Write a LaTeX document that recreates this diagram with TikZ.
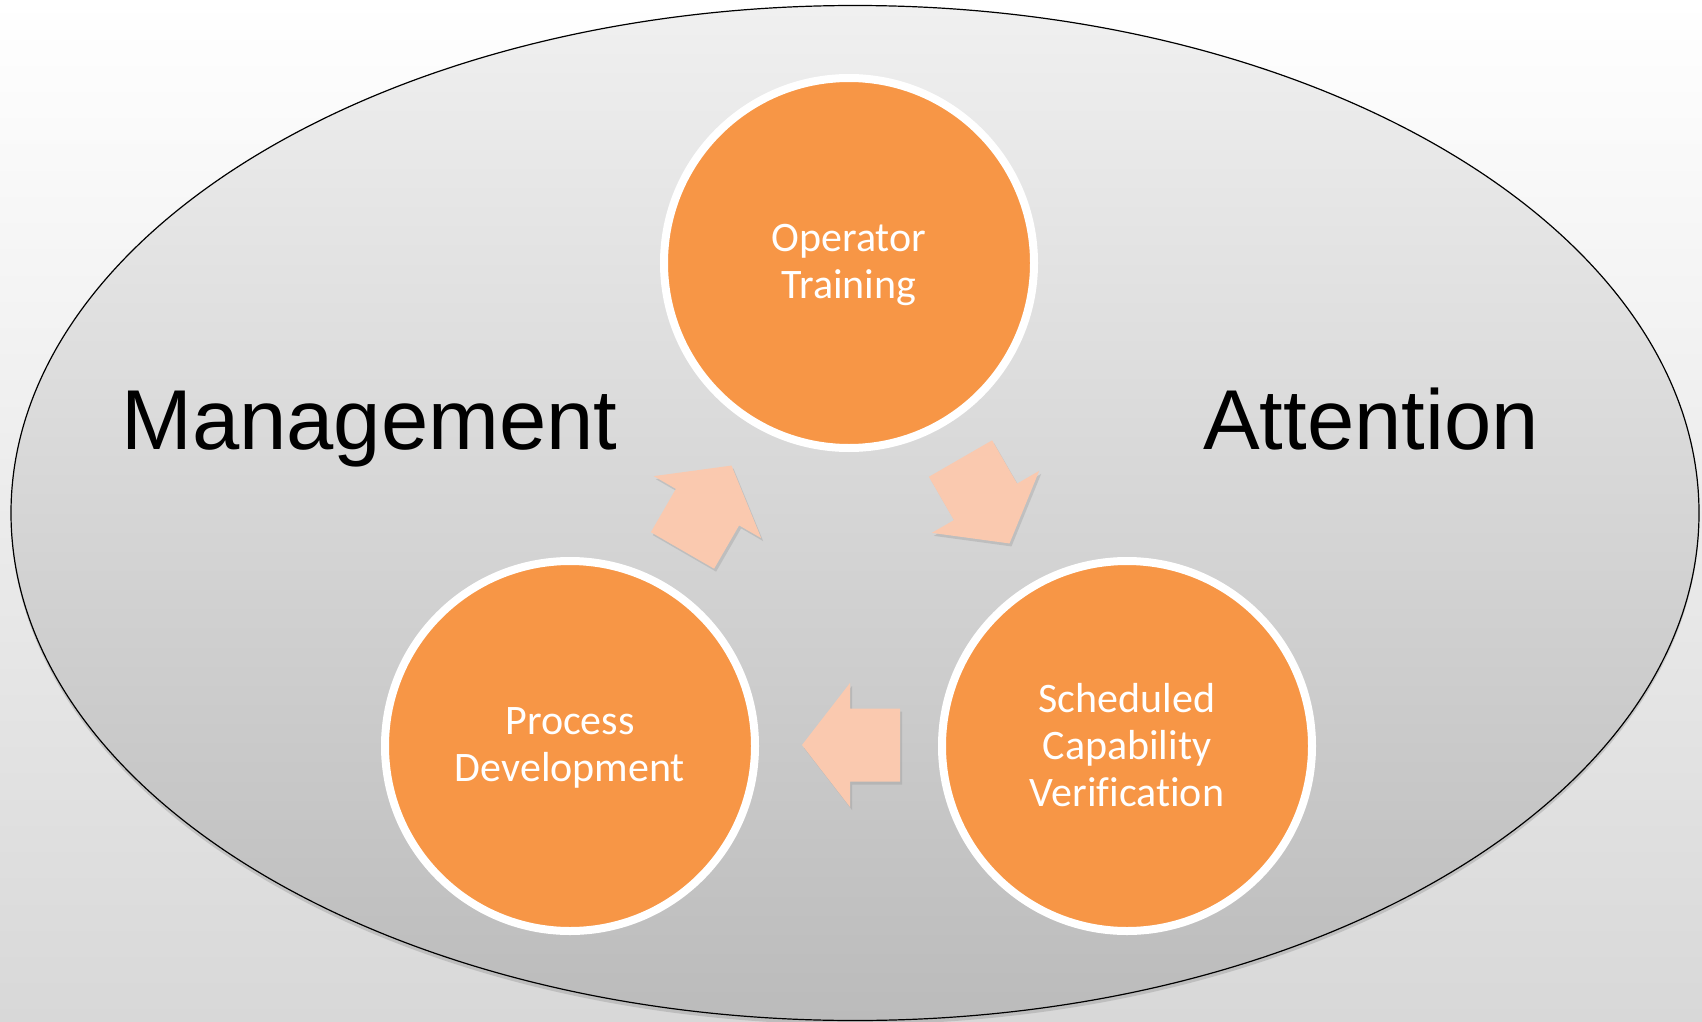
\documentclass[tikz,border=0pt]{standalone}
\usepackage{fontspec}
\setmainfont{Carlito}[Ligatures=NoCommon]
\newfontfamily\arialfont{Liberation Sans}
\usetikzlibrary{shadows}
\definecolor{orangefill}{HTML}{F79646}
\definecolor{peach}{HTML}{FAC9AF}
\definecolor{bgbottom}{HTML}{D8D8D8}
\definecolor{elltop}{HTML}{F0F0F0}
\definecolor{ellbottom}{HTML}{BBBBBB}
\tikzset{
  stagecircle/.style={circle, fill=orangefill, draw=white, line width=8pt,
    minimum size=370pt, inner sep=0pt, text=white, align=center,
    font=\fontsize{42}{47}\selectfont,
    drop shadow={shadow xshift=2pt, shadow yshift=-3pt, opacity=0.25}},
  bigword/.style={anchor=base west, inner sep=0pt, text=black,
    font=\arialfont\fontsize{85}{100}\selectfont},
  blockarrow/.style={fill=peach,
    drop shadow={shadow xshift=2pt, shadow yshift=-3pt, opacity=0.25}},
}
\newcommand{\cyclearrow}[3]{%
  \begin{scope}[shift={(#1,#2)}, rotate=#3]
    \fill[blockarrow] (-49,-36.5) -- (1,-36.5) -- (1,-62) -- (49,0) -- (1,62) -- (1,36.5) -- (-49,36.5) -- cycle;
  \end{scope}}
\begin{document}
\begin{tikzpicture}[x=1pt, y=-1pt]
  \useasboundingbox (0,0) rectangle (1702,1022);
  % background
  \fill[top color=white, bottom color=bgbottom] (0,0) rectangle (1702,1022);
  % big ellipse
  \path[top color=elltop, bottom color=ellbottom, draw=black, line width=1.2pt,
    drop shadow={shadow xshift=0pt, shadow yshift=-4pt, opacity=0.3}]
    (855,513) ellipse [x radius=844, y radius=507.5];
  % side words
  \node[bigword] (mgmt) at (121,449) {Management};
  \node[bigword] (attn) at (1203,449) {Attention};
  % circles (outline circle centred, text block placed on it)
  \node[stagecircle] (op) at (849,263) {};
  \node[stagecircle] (pd) at (570,746) {};
  \node[stagecircle] (scv) at (1127,746) {};
  \node[text=white, align=center, font=\fontsize{42}{47}\selectfont] (opt) at ([yshift=-2pt]op.center) {Operator\\Training};
  \node[text=white, align=center, font=\fontsize{42}{47}\selectfont] (pdt) at ([yshift=-2pt]pd.center) {Process\\Development};
  \node[text=white, align=center, font=\fontsize{42}{47}\selectfont] (scvt) at ([yshift=1pt]scv.center) {Scheduled\\Capability\\Verification};
  % block arrows
  \cyclearrow{707}{508}{60}
  \cyclearrow{985}{501}{-60}
  \cyclearrow{851}{745}{180}
\end{tikzpicture}
\end{document}
